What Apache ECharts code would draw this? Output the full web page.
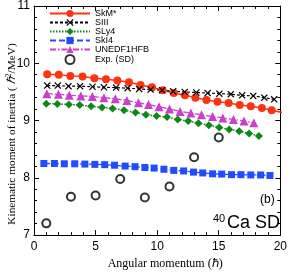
<!DOCTYPE html>
<html><head><meta charset="utf-8">
<script src="https://cdn.jsdelivr.net/npm/echarts@6/dist/echarts.min.js"></script>
<style>html,body{margin:0;padding:0;background:#fff}#c{width:290px;height:275px}</style>
</head><body><div id="c"></div>
<script>
var xTicks = [0, 5, 10, 15, 20];
var yTicks = [7, 8, 9, 10, 11];

var skmJ = [1.07, 2.01, 2.95, 3.94, 4.9, 5.84, 6.77, 7.71, 8.65, 9.58, 10.45, 11.35, 12.25, 13.1, 14.0, 14.9, 15.8, 16.7, 17.6, 18.5, 19.3, 20.2];
var skmI = [9.81, 9.80, 9.78, 9.77, 9.74, 9.72, 9.70, 9.67, 9.62, 9.58, 9.53, 9.48, 9.44, 9.40, 9.36, 9.33, 9.305, 9.27, 9.25, 9.22, 9.18, 9.14];

var siiiJ = [1.07, 1.93, 2.8, 3.74, 4.75, 5.68, 6.67, 7.6, 8.54, 9.47, 10.4, 11.3, 12.24, 13.18, 14.1, 15.05, 15.98, 16.9, 17.8, 18.7, 19.5];
var siiiI = [9.61, 9.61, 9.60, 9.60, 9.59, 9.58, 9.575, 9.565, 9.55, 9.54, 9.53, 9.51, 9.50, 9.49, 9.48, 9.47, 9.46, 9.44, 9.43, 9.40, 9.37];

var sly4J = [1.0, 1.9, 2.83, 3.71, 4.64, 5.52, 6.38, 7.31, 8.24, 9.09, 9.95, 10.8, 11.67, 12.52, 13.35, 14.2, 15.04, 15.85, 16.66, 17.46, 18.26];
var sly4I = [9.295, 9.29, 9.28, 9.27, 9.25, 9.23, 9.21, 9.18, 9.14, 9.10, 9.08, 9.06, 9.02, 8.99, 8.955, 8.92, 8.88, 8.845, 8.815, 8.775, 8.73];

var ski4J = [0.8, 1.66, 2.46, 3.31, 4.13, 4.94, 5.74, 6.54, 7.4, 8.2, 9.0, 9.75, 10.55, 11.35, 12.15, 12.95, 13.7, 14.5, 15.24, 16.04, 16.8, 17.6, 18.4, 19.16];
var ski4I = [8.25, 8.25, 8.245, 8.245, 8.24, 8.235, 8.23, 8.22, 8.205, 8.195, 8.18, 8.17, 8.15, 8.13, 8.12, 8.10, 8.085, 8.07, 8.065, 8.055, 8.055, 8.05, 8.05, 8.04];

var unedfJ = [1.04, 1.98, 2.86, 3.8, 4.74, 5.68, 6.6, 7.54, 8.48, 9.3, 10.15, 11.0, 11.86, 12.74, 13.6, 14.5, 15.33, 16.2, 17.05, 17.85];
var unedfI = [9.47, 9.46, 9.44, 9.43, 9.42, 9.40, 9.38, 9.35, 9.31, 9.28, 9.24, 9.20, 9.16, 9.13, 9.10, 9.07, 9.045, 9.02, 8.99, 8.96];

var expJ = [1, 3, 5, 7, 9, 11, 13, 15];
var expI = [7.205, 7.67, 7.69, 7.98, 7.655, 7.85, 8.36, 8.705];

function pairs(a, b) { return a.map(function (v, i) { return [v, b[i]]; }); }

var crossPath = 'path://M0,1.2 L1.2,0 L5,3.8 L8.8,0 L10,1.2 L6.2,5 L10,8.8 L8.8,10 L5,6.2 L1.2,10 L0,8.8 L3.8,5 Z';
var sans = 'Liberation Sans';
var serif = 'Liberation Serif';

function baseX(show) {
  return {
    type: 'value', min: xTicks[0], max: xTicks[xTicks.length - 1], interval: xTicks[1] - xTicks[0],
    position: show ? 'bottom' : 'top',
    axisLine: { show: true, onZero: false, lineStyle: { color: '#000', width: 1 } },
    axisTick: { show: true, inside: true, length: 5, lineStyle: { color: '#000' } },
    minorTick: { show: true, splitNumber: 5, length: 3, lineStyle: { color: '#000' } },
    splitLine: { show: false },
    axisLabel: { show: show, color: '#000', fontFamily: sans, fontSize: 12, margin: 6 }
  };
}
function baseY(show) {
  return {
    type: 'value', min: yTicks[0], max: yTicks[yTicks.length - 1], interval: yTicks[1] - yTicks[0],
    position: show ? 'left' : 'right',
    axisLine: { show: true, onZero: false, lineStyle: { color: '#000', width: 1 } },
    axisTick: { show: true, inside: true, length: 5, lineStyle: { color: '#000' } },
    minorTick: { show: true, splitNumber: 5, length: 3, lineStyle: { color: '#000' } },
    splitLine: { show: false },
    axisLabel: { show: show, color: '#000', fontFamily: sans, fontSize: 12, margin: 4 }
  };
}

var xa = baseX(true);
xa.name = 'Angular momentum (ℏ)';
xa.nameLocation = 'middle';
xa.nameGap = 17;
xa.nameTextStyle = { fontFamily: serif, fontSize: 12, color: '#000', padding: [0, 0, 0, 16] };
var ya = baseY(true);

var chart = echarts.init(document.getElementById('c'), null, { renderer: 'canvas' });
chart.setOption({
  animation: false,
  backgroundColor: '#fff',
  grid: { left: 34, right: 7, top: 5, bottom: 30, containLabel: false },
  xAxis: [xa, baseX(false)],
  yAxis: [ya, baseY(false)],
  legend: {
    orient: 'vertical', left: 49, top: 9, padding: 0, itemGap: 0,
    itemWidth: 40, itemHeight: 9,
    textStyle: { fontFamily: sans, fontSize: 9, lineHeight: 9, color: '#000', padding: [0, 0, 0, 0] },
    data: ['SkM*', 'SIII', 'SLy4', 'SkI4', 'UNEDF1HFB', 'Exp. (SD)']
  },
  series: [
    { name: 'SkM*', type: 'line', data: pairs(skmJ, skmI), symbol: 'circle', symbolSize: 8,
      lineStyle: { color: '#ff3311', width: 1.5 }, itemStyle: { color: '#ff3311' } },
    { name: 'SIII', type: 'line', data: pairs(siiiJ, siiiI), symbol: crossPath, symbolSize: 7,
      lineStyle: { color: '#000', width: 1.2, type: [3, 2] }, itemStyle: { color: '#000' } },
    { name: 'SLy4', type: 'line', data: pairs(sly4J, sly4I), symbol: 'diamond', symbolSize: 8,
      lineStyle: { color: '#0a8a14', width: 1.5, type: [1.5, 1.5] }, itemStyle: { color: '#0a8a14' } },
    { name: 'SkI4', type: 'line', data: pairs(ski4J, ski4I), symbol: 'rect', symbolSize: 7,
      lineStyle: { color: '#1f4dff', width: 1.3, type: [6, 3] }, itemStyle: { color: '#1f4dff' } },
    { name: 'UNEDF1HFB', type: 'line', data: pairs(unedfJ, unedfI), symbol: 'triangle', symbolSize: 9,
      lineStyle: { color: '#cc3fcc', width: 1.3, type: [6, 2, 1.5, 2] }, itemStyle: { color: '#cc3fcc' } },
    { name: 'Exp. (SD)', type: 'scatter', data: pairs(expJ, expI), symbol: 'circle', symbolSize: 8,
      itemStyle: { color: '#fff', borderColor: '#000', borderWidth: 2 } }
  ],
  graphic: [
    { type: 'text', x: 12, y: 134, rotation: Math.PI / 2,
      style: { text: 'Kinematic moment of inertia ( {h|ℏ}{s|2}/MeV)', font: '11.3px "Liberation Serif"', fill: '#000',
        align: 'center', verticalAlign: 'middle',
        rich: { h: { font: 'italic 11.3px "Liberation Serif"', fill: '#000' },
                s: { font: '8px "Liberation Serif"', fill: '#000', padding: [0, 0, 6, 0] } } } },
    { type: 'text', left: 260, top: 194, style: { text: '(b)', font: '12px "Liberation Sans"', fill: '#000' } },
    { type: 'text', left: 213, top: 213, style: { text: '40', font: '11px "Liberation Sans"', fill: '#000' } },
    { type: 'text', left: 227, top: 214, style: { text: 'Ca SD', font: '18px "Liberation Sans"', fill: '#000' } }
  ]
});
</script></body></html>
